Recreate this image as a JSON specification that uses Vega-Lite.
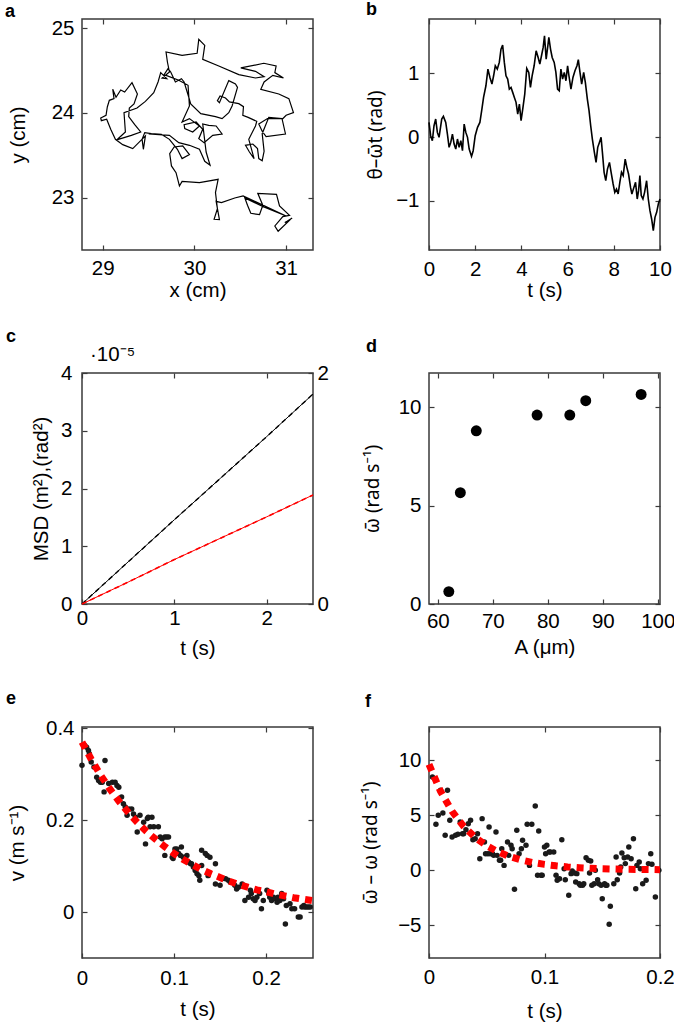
{
  "$schema": "https://vega.github.io/schema/vega-lite/v6.json",
  "padding": {"left": 4, "top": 0, "right": 5, "bottom": 5},
  "columns": 2,
  "spacing": {"row": 123, "column": 116},
  "bounds": "flush",
  "datasets": {
    "a": [
      {"i":1,"x":31.066,"y":22.765},{"i":2,"x":30.986,"y":22.710},{"i":3,"x":31.048,"y":22.749},{"i":4,"x":30.913,"y":22.608},{"i":5,"x":30.877,"y":22.671},{"i":6,"x":30.964,"y":22.781},{"i":7,"x":31.037,"y":22.796},{"i":8,"x":30.928,"y":22.906},{"i":9,"x":30.895,"y":23.043},{"i":10,"x":30.691,"y":23.055},
      {"i":11,"x":30.746,"y":22.914},{"i":12,"x":30.710,"y":22.804},{"i":13,"x":30.615,"y":22.820},{"i":14,"x":30.579,"y":22.914},{"i":15,"x":30.550,"y":23.000},{"i":16,"x":30.757,"y":22.894},{"i":17,"x":31.000,"y":22.788},{"i":18,"x":30.531,"y":23.024},{"i":19,"x":30.440,"y":23.000},{"i":20,"x":30.295,"y":22.945},
      {"i":21,"x":30.237,"y":22.961},{"i":22,"x":30.273,"y":22.745},{"i":23,"x":30.215,"y":22.749},{"i":24,"x":30.251,"y":22.875},{"i":25,"x":30.230,"y":23.063},{"i":26,"x":30.259,"y":23.220},{"i":27,"x":30.055,"y":23.181},{"i":28,"x":29.866,"y":23.196},{"i":29,"x":29.837,"y":23.141},{"i":30,"x":29.800,"y":23.298},
      {"i":31,"x":29.750,"y":23.377},{"i":32,"x":29.731,"y":23.522},{"i":33,"x":29.779,"y":23.600},{"i":34,"x":29.873,"y":23.612},{"i":35,"x":29.946,"y":23.510},{"i":36,"x":29.866,"y":23.463},{"i":37,"x":29.815,"y":23.573},{"i":38,"x":29.728,"y":23.690},{"i":39,"x":29.640,"y":23.749},{"i":40,"x":29.531,"y":23.757},
      {"i":41,"x":29.459,"y":23.769},{"i":42,"x":29.430,"y":23.690},{"i":43,"x":29.444,"y":23.573},{"i":44,"x":29.466,"y":23.730},{"i":45,"x":29.328,"y":23.581},{"i":46,"x":29.219,"y":23.628},{"i":47,"x":29.139,"y":23.690},{"i":48,"x":29.088,"y":23.808},{"i":49,"x":29.044,"y":23.926},{"i":50,"x":28.986,"y":23.910},
      {"i":51,"x":28.979,"y":23.941},{"i":52,"x":29.037,"y":23.973},{"i":53,"x":29.051,"y":24.071},{"i":54,"x":29.073,"y":24.149},{"i":55,"x":29.124,"y":24.169},{"i":56,"x":29.110,"y":24.279},{"i":57,"x":29.146,"y":24.185},{"i":58,"x":29.197,"y":24.271},{"i":59,"x":29.240,"y":24.247},{"i":60,"x":29.320,"y":24.357},
      {"i":61,"x":29.379,"y":24.224},{"i":62,"x":29.342,"y":24.106},{"i":63,"x":29.291,"y":24.059},{"i":64,"x":29.284,"y":23.957},{"i":65,"x":29.350,"y":23.863},{"i":66,"x":29.415,"y":23.777},{"i":67,"x":29.313,"y":23.737},{"i":68,"x":29.153,"y":23.683},{"i":69,"x":29.248,"y":23.777},{"i":70,"x":29.233,"y":24.004},
      {"i":71,"x":29.375,"y":24.059},{"i":72,"x":29.466,"y":24.137},{"i":73,"x":29.557,"y":24.239},{"i":74,"x":29.604,"y":24.365},{"i":75,"x":29.633,"y":24.475},{"i":76,"x":29.699,"y":24.404},{"i":77,"x":29.648,"y":24.412},{"i":78,"x":29.728,"y":24.483},{"i":79,"x":29.706,"y":24.600},{"i":80,"x":29.691,"y":24.718},
      {"i":81,"x":29.866,"y":24.679},{"i":82,"x":30.030,"y":24.702},{"i":83,"x":30.048,"y":24.867},{"i":84,"x":30.113,"y":24.796},{"i":85,"x":30.091,"y":24.632},{"i":86,"x":30.266,"y":24.553},{"i":87,"x":30.484,"y":24.451},{"i":88,"x":30.666,"y":24.412},{"i":89,"x":30.760,"y":24.428},{"i":90,"x":30.666,"y":24.490},
      {"i":91,"x":30.506,"y":24.530},{"i":92,"x":30.757,"y":24.585},{"i":93,"x":30.891,"y":24.553},{"i":94,"x":30.877,"y":24.475},{"i":95,"x":30.971,"y":24.412},{"i":96,"x":30.855,"y":24.443},{"i":97,"x":30.760,"y":24.365},{"i":98,"x":30.724,"y":24.279},{"i":99,"x":30.920,"y":24.224},{"i":100,"x":31.030,"y":24.169},
      {"i":101,"x":31.080,"y":24.004},{"i":102,"x":31.000,"y":23.973},{"i":103,"x":30.957,"y":23.926},{"i":104,"x":30.993,"y":23.753},{"i":105,"x":30.782,"y":23.722},{"i":106,"x":30.739,"y":23.785},{"i":107,"x":30.702,"y":23.871},{"i":108,"x":30.797,"y":23.934},{"i":109,"x":30.957,"y":23.934},{"i":110,"x":30.811,"y":23.949},
      {"i":111,"x":30.739,"y":23.757},{"i":112,"x":30.760,"y":23.549},{"i":113,"x":30.739,"y":23.439},{"i":114,"x":30.702,"y":23.463},{"i":115,"x":30.688,"y":23.581},{"i":116,"x":30.637,"y":23.635},{"i":117,"x":30.557,"y":23.620},{"i":118,"x":30.600,"y":23.541},{"i":119,"x":30.651,"y":23.463},{"i":120,"x":30.593,"y":23.690},
      {"i":121,"x":30.666,"y":23.847},{"i":122,"x":30.680,"y":23.902},{"i":123,"x":30.586,"y":23.949},{"i":124,"x":30.528,"y":23.973},{"i":125,"x":30.535,"y":24.075},{"i":126,"x":30.484,"y":24.110},{"i":127,"x":30.382,"y":24.130},{"i":128,"x":30.339,"y":24.177},{"i":129,"x":30.280,"y":24.200},{"i":130,"x":30.251,"y":24.145},
      {"i":131,"x":30.273,"y":24.122},{"i":132,"x":30.375,"y":24.381},{"i":133,"x":30.448,"y":24.341},{"i":134,"x":30.470,"y":24.302},{"i":135,"x":30.411,"y":24.083},{"i":136,"x":30.375,"y":24.004},{"i":137,"x":30.302,"y":23.934},{"i":138,"x":30.230,"y":23.957},{"i":139,"x":30.070,"y":23.992},{"i":140,"x":29.960,"y":24.106},
      {"i":141,"x":29.939,"y":24.185},{"i":142,"x":29.888,"y":24.365},{"i":143,"x":29.859,"y":24.404},{"i":144,"x":29.793,"y":24.365},{"i":145,"x":29.742,"y":24.483},{"i":146,"x":29.713,"y":24.522},{"i":147,"x":29.670,"y":24.451},{"i":148,"x":29.830,"y":24.385},{"i":149,"x":29.931,"y":24.326},{"i":150,"x":29.946,"y":24.083},
      {"i":151,"x":29.866,"y":23.894},{"i":152,"x":29.946,"y":23.934},{"i":153,"x":30.055,"y":23.847},{"i":154,"x":29.982,"y":23.777},{"i":155,"x":29.895,"y":23.816},{"i":156,"x":29.888,"y":23.863},{"i":157,"x":30.019,"y":23.894},{"i":158,"x":30.091,"y":23.808},{"i":159,"x":30.048,"y":23.698},{"i":160,"x":30.106,"y":23.651},
      {"i":161,"x":30.200,"y":23.737},{"i":162,"x":30.302,"y":23.753},{"i":163,"x":30.237,"y":23.847},{"i":164,"x":30.157,"y":23.855},{"i":165,"x":30.091,"y":23.871},{"i":166,"x":30.128,"y":23.541},{"i":167,"x":30.171,"y":23.385},{"i":168,"x":30.113,"y":23.432},{"i":169,"x":30.055,"y":23.573},{"i":170,"x":29.946,"y":23.620},
      {"i":171,"x":29.830,"y":23.651},{"i":172,"x":29.728,"y":23.737},{"i":173,"x":29.502,"y":23.753}
    ],
    "b": [
      {"t":0,"y":0.230},{"t":0.072,"y":0.021},{"t":0.145,"y":-0.058},{"t":0.217,"y":0.178},{"t":0.290,"y":0.283},{"t":0.362,"y":0.073},{"t":0.435,"y":-0.005},{"t":0.551,"y":0.283},{"t":0.623,"y":0.325},{"t":0.725,"y":0.230},
      {"t":0.797,"y":0.047},{"t":0.870,"y":-0.162},{"t":0.942,"y":-0.084},{"t":1.014,"y":0.047},{"t":1.087,"y":-0.110},{"t":1.159,"y":-0.188},{"t":1.232,"y":-0.031},{"t":1.304,"y":-0.162},{"t":1.377,"y":-0.058},{"t":1.449,"y":-0.215},
      {"t":1.522,"y":0.204},{"t":1.594,"y":0.073},{"t":1.667,"y":-0.005},{"t":1.739,"y":-0.188},{"t":1.841,"y":-0.304},{"t":1.913,"y":-0.215},{"t":2.000,"y":0.021},{"t":2.101,"y":0.152},{"t":2.203,"y":0.230},{"t":2.290,"y":0.440},
      {"t":2.362,"y":0.623},{"t":2.464,"y":0.806},{"t":2.551,"y":1.068},{"t":2.638,"y":0.937},{"t":2.725,"y":0.832},{"t":2.797,"y":0.963},{"t":2.870,"y":1.120},{"t":2.957,"y":1.068},{"t":3.043,"y":1.173},{"t":3.116,"y":1.382},
      {"t":3.188,"y":1.445},{"t":3.261,"y":1.173},{"t":3.333,"y":0.963},{"t":3.406,"y":0.911},{"t":3.478,"y":0.754},{"t":3.551,"y":0.780},{"t":3.623,"y":0.702},{"t":3.696,"y":0.623},{"t":3.768,"y":0.545},{"t":3.841,"y":0.361},
      {"t":3.913,"y":0.518},{"t":3.986,"y":0.257},{"t":4.058,"y":0.440},{"t":4.145,"y":0.675},{"t":4.232,"y":1.079},{"t":4.319,"y":1.016},{"t":4.391,"y":0.780},{"t":4.464,"y":0.963},{"t":4.551,"y":1.120},{"t":4.638,"y":1.356},
      {"t":4.725,"y":1.251},{"t":4.797,"y":1.147},{"t":4.870,"y":1.277},{"t":4.942,"y":1.408},{"t":5.000,"y":1.592},{"t":5.072,"y":1.225},{"t":5.145,"y":1.435},{"t":5.188,"y":1.565},{"t":5.261,"y":1.382},{"t":5.333,"y":1.251},
      {"t":5.420,"y":1.173},{"t":5.493,"y":1.016},{"t":5.565,"y":0.754},{"t":5.638,"y":0.728},{"t":5.710,"y":1.068},{"t":5.783,"y":0.911},{"t":5.855,"y":1.016},{"t":5.928,"y":0.885},{"t":6.000,"y":1.120},{"t":6.058,"y":0.963},
      {"t":6.145,"y":0.754},{"t":6.232,"y":0.937},{"t":6.319,"y":1.042},{"t":6.406,"y":1.120},{"t":6.464,"y":1.215},{"t":6.536,"y":1.016},{"t":6.609,"y":0.832},{"t":6.696,"y":1.016},{"t":6.768,"y":0.859},{"t":6.855,"y":0.597},
      {"t":6.928,"y":0.414},{"t":7.000,"y":0.178},{"t":7.072,"y":-0.031},{"t":7.159,"y":-0.241},{"t":7.232,"y":-0.398},{"t":7.304,"y":-0.162},{"t":7.377,"y":-0.084},{"t":7.449,"y":-0.005},{"t":7.507,"y":-0.241},{"t":7.580,"y":-0.555},
      {"t":7.652,"y":-0.686},{"t":7.725,"y":-0.503},{"t":7.812,"y":-0.398},{"t":7.884,"y":-0.555},{"t":7.971,"y":-0.738},{"t":8.043,"y":-0.869},{"t":8.116,"y":-0.817},{"t":8.188,"y":-0.895},{"t":8.261,"y":-0.712},{"t":8.333,"y":-0.555},
      {"t":8.406,"y":-0.607},{"t":8.493,"y":-0.346},{"t":8.565,"y":-0.476},{"t":8.638,"y":-0.581},{"t":8.725,"y":-0.791},{"t":8.783,"y":-0.895},{"t":8.870,"y":-0.791},{"t":8.942,"y":-0.712},{"t":9.014,"y":-0.974},{"t":9.072,"y":-0.843},
      {"t":9.130,"y":-0.607},{"t":9.188,"y":-0.921},{"t":9.261,"y":-0.974},{"t":9.333,"y":-0.869},{"t":9.420,"y":-0.686},{"t":9.493,"y":-0.974},{"t":9.565,"y":-1.157},{"t":9.638,"y":-1.288},{"t":9.710,"y":-1.471},{"t":9.783,"y":-1.262},
      {"t":9.855,"y":-1.183},{"t":9.928,"y":-1.052},{"t":10.0,"y":-0.974}
    ],
    "c": [
      {"t":0,"k":0,"r":0},{"t":0.5,"k":0.73,"r":0.19},{"t":1,"k":1.46,"r":0.385},{"t":1.5,"k":2.18,"r":0.57},{"t":2,"k":2.9,"r":0.755},{"t":2.5,"k":3.635,"r":0.944}
    ],
    "d": [
      {"A":62.0,"w":0.63},{"A":64.1,"w":5.66},{"A":67.0,"w":8.81},{"A":78.05,"w":9.61},{"A":84.0,"w":9.61},{"A":86.9,"w":10.34},{"A":96.97,"w":10.66}
    ],
    "e": [
      {"t":0.000,"v":0.320},{"t":0.003,"v":0.363},{"t":0.005,"v":0.359},{"t":0.007,"v":0.352},{"t":0.008,"v":0.345},{"t":0.010,"v":0.327},{"t":0.013,"v":0.316},{"t":0.016,"v":0.294},{"t":0.018,"v":0.287},{"t":0.020,"v":0.283},
      {"t":0.022,"v":0.283},{"t":0.024,"v":0.262},{"t":0.025,"v":0.330},{"t":0.029,"v":0.280},{"t":0.033,"v":0.283},{"t":0.036,"v":0.283},{"t":0.038,"v":0.276},{"t":0.040,"v":0.272},{"t":0.043,"v":0.251},{"t":0.045,"v":0.236},
      {"t":0.047,"v":0.229},{"t":0.049,"v":0.211},{"t":0.051,"v":0.225},{"t":0.054,"v":0.225},{"t":0.056,"v":0.214},{"t":0.058,"v":0.207},{"t":0.060,"v":0.175},{"t":0.063,"v":0.211},{"t":0.067,"v":0.196},{"t":0.071,"v":0.204},
      {"t":0.072,"v":0.207},{"t":0.076,"v":0.207},{"t":0.074,"v":0.186},{"t":0.078,"v":0.186},{"t":0.069,"v":0.149},{"t":0.083,"v":0.186},{"t":0.085,"v":0.164},{"t":0.087,"v":0.160},{"t":0.090,"v":0.164},{"t":0.092,"v":0.164},
      {"t":0.094,"v":0.164},{"t":0.090,"v":0.124},{"t":0.098,"v":0.120},{"t":0.099,"v":0.117},{"t":0.101,"v":0.138},{"t":0.103,"v":0.138},{"t":0.108,"v":0.142},{"t":0.105,"v":0.128},{"t":0.107,"v":0.124},{"t":0.110,"v":0.120},
      {"t":0.112,"v":0.120},{"t":0.114,"v":0.124},{"t":0.116,"v":0.109},{"t":0.118,"v":0.106},{"t":0.119,"v":0.106},{"t":0.121,"v":0.099},{"t":0.123,"v":0.091},{"t":0.125,"v":0.084},{"t":0.127,"v":0.080},{"t":0.128,"v":0.070},
      {"t":0.130,"v":0.135},{"t":0.134,"v":0.128},{"t":0.136,"v":0.124},{"t":0.139,"v":0.120},{"t":0.145,"v":0.106},{"t":0.130,"v":0.102},{"t":0.137,"v":0.080},{"t":0.145,"v":0.062},{"t":0.150,"v":0.059},{"t":0.152,"v":0.073},
      {"t":0.156,"v":0.073},{"t":0.159,"v":0.070},{"t":0.161,"v":0.066},{"t":0.163,"v":0.066},{"t":0.166,"v":0.059},{"t":0.168,"v":0.051},{"t":0.170,"v":0.055},{"t":0.174,"v":0.062},{"t":0.177,"v":0.026},{"t":0.181,"v":0.033},
      {"t":0.183,"v":0.048},{"t":0.184,"v":0.041},{"t":0.186,"v":0.030},{"t":0.188,"v":0.026},{"t":0.190,"v":0.033},{"t":0.193,"v":0.041},{"t":0.195,"v":0.008},{"t":0.197,"v":0.026},{"t":0.201,"v":0.048},{"t":0.203,"v":0.041},
      {"t":0.204,"v":0.033},{"t":0.206,"v":0.026},{"t":0.208,"v":0.033},{"t":0.210,"v":0.030},{"t":0.212,"v":0.022},{"t":0.213,"v":0.033},{"t":0.215,"v":0.026},{"t":0.217,"v":0.041},{"t":0.219,"v":0.030},{"t":0.221,"v":-0.025},
      {"t":0.222,"v":0.015},{"t":0.226,"v":0.019},{"t":0.228,"v":0.008},{"t":0.231,"v":0.008},{"t":0.235,"v":-0.010},{"t":0.237,"v":-0.010},{"t":0.239,"v":0.012},{"t":0.241,"v":0.015},{"t":0.242,"v":0.012},{"t":0.244,"v":0.012},
      {"t":0.246,"v":0.012},{"t":0.248,"v":0.012}
    ],
    "efit": [
      {"t":0,"v":0.370},{"t":0.01,"v":0.333},{"t":0.02,"v":0.299},{"t":0.03,"v":0.269},{"t":0.04,"v":0.242},{"t":0.05,"v":0.218},{"t":0.06,"v":0.196},{"t":0.07,"v":0.176},{"t":0.08,"v":0.159},{"t":0.09,"v":0.143},
      {"t":0.10,"v":0.128},{"t":0.11,"v":0.115},{"t":0.12,"v":0.104},{"t":0.13,"v":0.093},{"t":0.14,"v":0.084},{"t":0.15,"v":0.076},{"t":0.16,"v":0.068},{"t":0.17,"v":0.061},{"t":0.18,"v":0.055},{"t":0.19,"v":0.049},
      {"t":0.20,"v":0.045},{"t":0.21,"v":0.040},{"t":0.22,"v":0.036},{"t":0.23,"v":0.032},{"t":0.24,"v":0.029},{"t":0.25,"v":0.026}
    ],
    "f": [
      {"t":0.003,"w":8.45},{"t":0.006,"w":4.15},{"t":0.008,"w":4.97},{"t":0.010,"w":7.24},{"t":0.012,"w":5.18},{"t":0.014,"w":3.15},{"t":0.016,"w":7.24},{"t":0.018,"w":4.52},{"t":0.020,"w":3.00},{"t":0.023,"w":3.15},
      {"t":0.025,"w":3.24},{"t":0.027,"w":4.36},{"t":0.029,"w":3.30},{"t":0.030,"w":3.30},{"t":0.032,"w":3.67},{"t":0.034,"w":4.21},{"t":0.036,"w":4.52},{"t":0.038,"w":2.76},{"t":0.040,"w":2.85},{"t":0.042,"w":3.30},
      {"t":0.044,"w":1.03},{"t":0.046,"w":4.67},{"t":0.048,"w":2.55},{"t":0.049,"w":1.48},{"t":0.051,"w":1.48},{"t":0.052,"w":3.91},{"t":0.053,"w":1.48},{"t":0.055,"w":1.48},{"t":0.056,"w":1.33},{"t":0.058,"w":3.45},
      {"t":0.059,"w":1.33},{"t":0.061,"w":0.88},{"t":0.062,"w":0.88},{"t":0.063,"w":1.94},{"t":0.065,"w":0.42},{"t":0.068,"w":2.55},{"t":0.069,"w":1.33},{"t":0.071,"w":2.24},{"t":0.072,"w":1.94},{"t":0.074,"w":-1.76},
      {"t":0.076,"w":3.61},{"t":0.078,"w":1.48},{"t":0.080,"w":1.94},{"t":0.081,"w":2.70},{"t":0.084,"w":2.24},{"t":0.085,"w":4.15},{"t":0.087,"w":0.42},{"t":0.089,"w":4.15},{"t":0.092,"w":5.82},{"t":0.094,"w":-0.48},
      {"t":0.095,"w":3.55},{"t":0.097,"w":-0.48},{"t":0.098,"w":-0.48},{"t":0.100,"w":2.09},{"t":0.101,"w":1.48},{"t":0.102,"w":2.24},{"t":0.104,"w":1.64},{"t":0.105,"w":1.64},{"t":0.108,"w":1.64},{"t":0.110,"w":-0.48},
      {"t":0.111,"w":-0.94},{"t":0.113,"w":-0.79},{"t":0.115,"w":2.76},{"t":0.117,"w":0.12},{"t":0.118,"w":-0.88},{"t":0.121,"w":-2.30},{"t":0.123,"w":-0.33},{"t":0.124,"w":-0.09},{"t":0.126,"w":-0.27},{"t":0.127,"w":-1.09},
      {"t":0.128,"w":-0.33},{"t":0.130,"w":-1.24},{"t":0.131,"w":-1.39},{"t":0.133,"w":-1.39},{"t":0.134,"w":-1.24},{"t":0.136,"w":1.12},{"t":0.138,"w":0.88},{"t":0.139,"w":-0.27},{"t":0.140,"w":0.82},{"t":0.141,"w":-1.39},
      {"t":0.143,"w":-1.24},{"t":0.144,"w":-0.03},{"t":0.146,"w":-0.88},{"t":0.147,"w":-1.24},{"t":0.149,"w":-1.39},{"t":0.150,"w":-2.61},{"t":0.152,"w":-1.24},{"t":0.153,"w":-1.39},{"t":0.154,"w":-1.39},{"t":0.156,"w":-4.94},
      {"t":0.157,"w":-3.30},{"t":0.160,"w":-1.24},{"t":0.162,"w":1.18},{"t":0.163,"w":-0.88},{"t":0.165,"w":-0.27},{"t":0.166,"w":0.27},{"t":0.167,"w":1.55},{"t":0.169,"w":1.12},{"t":0.170,"w":0.58},{"t":0.172,"w":1.18},
      {"t":0.173,"w":2.09},{"t":0.175,"w":1.03},{"t":0.177,"w":2.85},{"t":0.179,"w":-1.70},{"t":0.180,"w":0.42},{"t":0.182,"w":0.73},{"t":0.183,"w":0.12},{"t":0.185,"w":-1.24},{"t":0.188,"w":-0.94},{"t":0.190,"w":0.58},
      {"t":0.192,"w":1.48},{"t":0.193,"w":0.52},{"t":0.196,"w":-2.45},{"t":0.199,"w":-0.03}
    ],
    "ffit": [
      {"t":0,"w":9.6},{"t":0.01,"w":7.15},{"t":0.02,"w":5.33},{"t":0.03,"w":3.97},{"t":0.04,"w":2.96},{"t":0.05,"w":2.20},{"t":0.06,"w":1.64},{"t":0.07,"w":1.22},{"t":0.08,"w":0.91},{"t":0.09,"w":0.68},
      {"t":0.10,"w":0.51},{"t":0.11,"w":0.38},{"t":0.12,"w":0.28},{"t":0.13,"w":0.21},{"t":0.14,"w":0.16},{"t":0.15,"w":0.12},{"t":0.16,"w":0.09},{"t":0.17,"w":0.06},{"t":0.18,"w":0.05},{"t":0.19,"w":0.04},{"t":0.20,"w":0.03}
    ]
  },
  "concat": [
    {
      "width": 231, "height": 231,
      "title": {"text": "a", "dx": -77, "offset": -3},
      "data": {"name": "a"},
      "layer": [
        {"mark": {"type": "line", "color": "#000000", "strokeWidth": 1.2},
         "encoding": {
           "x": {"field": "x", "type": "quantitative", "scale": {"domain": [28.775, 31.293], "nice": false, "zero": false}, "axis": {"values": [29, 30, 31], "format": "d", "title": "x (cm)", "labelPadding": 13.5, "titlePadding": 1}},
           "y": {"field": "y", "type": "quantitative", "scale": {"domain": [22.388, 25.106], "nice": false, "zero": false}, "axis": {"values": [23, 24, 25], "format": "d", "title": "y (cm)", "labelPadding": 13, "titlePadding": 23}},
           "order": {"field": "i"}}},
        {"mark": {"type": "point", "opacity": 0},
         "encoding": {
           "x": {"field": "x", "type": "quantitative", "axis": {"orient": "top", "values": [29, 30, 31], "labels": false, "title": null}},
           "y": {"field": "y", "type": "quantitative", "axis": {"orient": "right", "values": [23, 24, 25], "labels": false, "title": null}}}}
      ],
      "resolve": {"axis": {"x": "independent", "y": "independent"}}
    },
    {
      "width": 231, "height": 231,
      "title": {"text": "b", "dx": -63, "offset": -1},
      "data": {"name": "b"},
      "layer": [
        {"mark": {"type": "line", "color": "#000000", "strokeWidth": 1.6},
         "encoding": {
           "x": {"field": "t", "type": "quantitative", "scale": {"domain": [0, 10], "nice": false}, "axis": {"values": [0, 2, 4, 6, 8, 10], "format": "d", "title": "t (s)", "labelPadding": 14.5, "titlePadding": 0}},
           "y": {"field": "y", "type": "quantitative", "scale": {"domain": [-1.775, 1.855], "nice": false, "zero": false}, "axis": {"values": [-1, 0, 1], "format": "d", "title": "θ–ω̄t (rad)", "titleFont": "Noto Sans", "titleFontSize": 19, "labelPadding": 15, "titlePadding": 10}}}},
        {"mark": {"type": "point", "opacity": 0},
         "encoding": {
           "x": {"field": "t", "type": "quantitative", "axis": {"orient": "top", "values": [0, 2, 4, 6, 8, 10], "labels": false, "title": null}},
           "y": {"field": "y", "type": "quantitative", "axis": {"orient": "right", "values": [-1, 0, 1], "labels": false, "title": null}}}}
      ],
      "resolve": {"axis": {"x": "independent", "y": "independent"}}
    },
    {
      "width": 231, "height": 231,
      "title": {"text": "c", "dx": -76, "offset": -1},
      "data": {"name": "c"},
      "layer": [
        {"layer": [
          {"mark": {"type": "line", "color": "#000000", "strokeWidth": 1},
           "encoding": {
             "x": {"field": "t", "type": "quantitative", "scale": {"domain": [0, 2.5], "nice": false}, "axis": {"values": [0, 1, 2], "format": "d", "title": "t (s)", "labelPadding": 9, "titlePadding": 9.5}},
             "y": {"field": "k", "type": "quantitative", "scale": {"domain": [0, 4], "nice": false}, "axis": {"values": [0, 1, 2, 3, 4], "format": "d", "title": "MSD (m²),(rad²)", "labelPadding": 15, "titlePadding": 9.5}}}},
          {"mark": {"type": "line", "color": "#000000", "strokeWidth": 1.4, "strokeDash": [5, 4]},
           "encoding": {
             "x": {"field": "t", "type": "quantitative"},
             "y": {"field": "k", "type": "quantitative"}}},
          {"data": {"values": [{"t": 0, "k": 4, "label": "·10⁻⁵"}]},
           "mark": {"type": "text", "align": "left", "baseline": "alphabetic", "dx": 8, "dy": -12, "fontSize": 20.5, "font": "Liberation Sans", "color": "#000000"},
           "encoding": {
             "x": {"field": "t", "type": "quantitative"},
             "y": {"field": "k", "type": "quantitative"},
             "text": {"field": "label"}}}
        ]},
        {"layer": [
          {"mark": {"type": "line", "color": "#ff0000", "strokeWidth": 1},
           "encoding": {
             "x": {"field": "t", "type": "quantitative", "axis": {"orient": "top", "values": [0, 1, 2], "labels": false, "title": null}},
             "y": {"field": "r", "type": "quantitative", "scale": {"domain": [0, 2], "nice": false}, "axis": {"orient": "right", "values": [0, 1, 2], "format": "d", "title": null, "labelPadding": 9}}}},
          {"mark": {"type": "line", "color": "#ff0000", "strokeWidth": 1.6, "strokeDash": [5, 4]},
           "encoding": {
             "x": {"field": "t", "type": "quantitative"},
             "y": {"field": "r", "type": "quantitative"}}}
        ]}
      ],
      "resolve": {"scale": {"y": "independent"}, "axis": {"x": "independent", "y": "independent"}}
    },
    {
      "width": 231, "height": 231,
      "title": {"text": "d", "dx": -63, "offset": 16},
      "data": {"name": "d"},
      "layer": [
        {"mark": {"type": "circle", "color": "#000000", "size": 120, "opacity": 1},
         "encoding": {
           "x": {"field": "A", "type": "quantitative", "scale": {"domain": [58.4, 100.4], "nice": false, "zero": false}, "axis": {"values": [60, 70, 80, 90, 100], "format": "d", "title": "A (μm)", "labelPadding": 12.5, "titlePadding": 5.5}},
           "y": {"field": "w", "type": "quantitative", "scale": {"domain": [0, 11.75], "nice": false}, "axis": {"values": [0, 5, 10], "format": "d", "title": "ω̄ (rad s⁻¹)", "titleFont": "Noto Sans", "titleFontSize": 19, "labelPadding": 13, "titlePadding": 16}}}},
        {"mark": {"type": "point", "opacity": 0},
         "encoding": {
           "x": {"field": "A", "type": "quantitative", "axis": {"orient": "top", "values": [60, 70, 80, 90, 100], "labels": false, "title": null}},
           "y": {"field": "w", "type": "quantitative", "axis": {"orient": "right", "values": [0, 5, 10], "labels": false, "title": null}}}}
      ],
      "resolve": {"axis": {"x": "independent", "y": "independent"}}
    },
    {
      "width": 231, "height": 231,
      "title": {"text": "e", "dx": -76, "offset": 10},
      "layer": [
        {"data": {"name": "e"},
         "mark": {"type": "circle", "color": "#1a1a1a", "size": 30, "opacity": 1},
         "encoding": {
           "x": {"field": "t", "type": "quantitative", "scale": {"domain": [0, 0.251], "nice": false}, "axis": {"values": [0, 0.1, 0.2], "format": ".1~f", "title": "t (s)", "labelPadding": 15.5, "titlePadding": 10}},
           "y": {"field": "v", "type": "quantitative", "scale": {"domain": [-0.099, 0.403], "nice": false, "zero": false}, "axis": {"values": [0, 0.2, 0.4], "format": ".1~f", "title": "v (m s⁻¹)", "labelPadding": 13, "titlePadding": 18.5}}}},
        {"data": {"name": "efit"},
         "mark": {"type": "line", "color": "#ff0000", "strokeWidth": 7, "strokeDash": [7, 6], "strokeCap": "butt"},
         "encoding": {
           "x": {"field": "t", "type": "quantitative", "axis": {"orient": "top", "values": [0, 0.1, 0.2], "labels": false, "title": null}},
           "y": {"field": "v", "type": "quantitative", "axis": {"orient": "right", "values": [0, 0.2, 0.4], "labels": false, "title": null}}}}
      ],
      "resolve": {"axis": {"x": "independent", "y": "independent"}}
    },
    {
      "width": 231, "height": 231,
      "title": {"text": "f", "dx": -64, "offset": 15},
      "layer": [
        {"data": {"name": "f"},
         "mark": {"type": "circle", "color": "#1a1a1a", "size": 30, "opacity": 1},
         "encoding": {
           "x": {"field": "t", "type": "quantitative", "scale": {"domain": [0, 0.2], "nice": false}, "axis": {"values": [0, 0.1, 0.2], "format": ".1~f", "title": "t (s)", "labelPadding": 14.5, "titlePadding": 13}},
           "y": {"field": "w", "type": "quantitative", "scale": {"domain": [-8, 13], "nice": false, "zero": false}, "axis": {"values": [-5, 0, 5, 10], "format": "d", "title": "ω̄ – ω (rad s⁻¹)", "titleFont": "Noto Sans", "titleFontSize": 19, "labelPadding": 13, "titlePadding": 17.5}}}},
        {"data": {"name": "ffit"},
         "mark": {"type": "line", "color": "#ff0000", "strokeWidth": 7, "strokeDash": [7, 6], "strokeCap": "butt"},
         "encoding": {
           "x": {"field": "t", "type": "quantitative", "axis": {"orient": "top", "values": [0, 0.1, 0.2], "labels": false, "title": null}},
           "y": {"field": "w", "type": "quantitative", "axis": {"orient": "right", "values": [-5, 0, 5, 10], "labels": false, "title": null}}}}
      ],
      "resolve": {"axis": {"x": "independent", "y": "independent"}}
    }
  ],
  "config": {
    "font": "Liberation Sans",
    "background": "#ffffff",
    "view": {"stroke": "#3a3a3a", "strokeWidth": 1.5},
    "axis": {
      "domain": false, "grid": false, "ticks": true, "tickSize": -5, "tickColor": "#3a3a3a", "tickWidth": 1.2,
      "labelFont": "Liberation Sans", "labelFontSize": 20.5, "labelColor": "#000000", "labelFlush": false, "labelOverlap": false,
      "titleFont": "Liberation Sans", "titleFontSize": 20.5, "titleFontWeight": "normal", "titleColor": "#000000",
      "minExtent": 0, "maxExtent": 300
    },
    "title": {"font": "Liberation Sans", "fontSize": 18, "fontWeight": "bold", "anchor": "start", "frame": "group", "color": "#000000", "baseline": "alphabetic"}
  }
}
